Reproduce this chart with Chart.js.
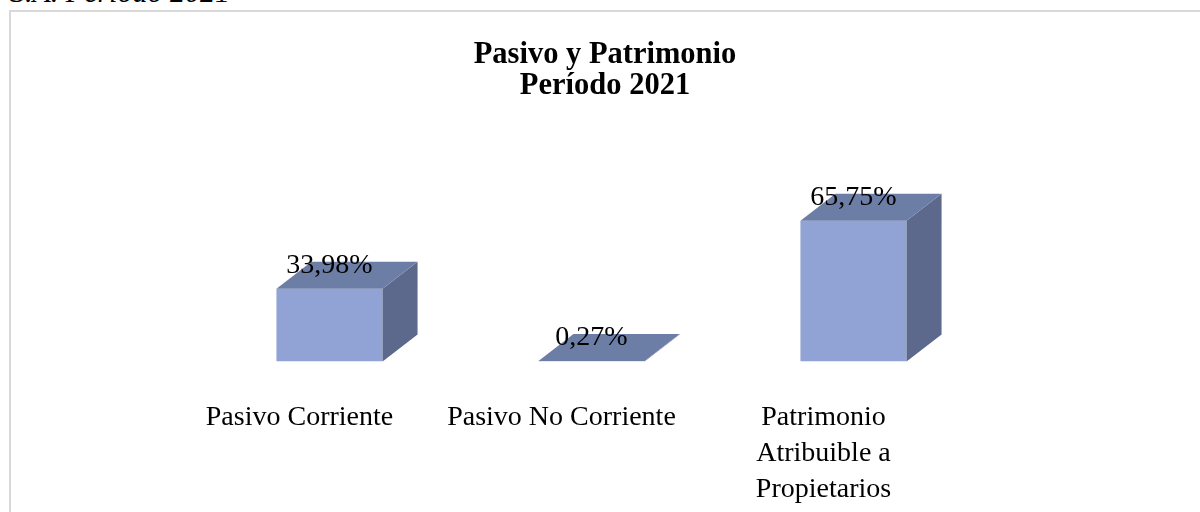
<!DOCTYPE html>
<html>
<head>
<meta charset="utf-8">
<script src="https://cdn.jsdelivr.net/npm/chart.js@4/dist/chart.umd.min.js"></script>
<style>
    html, body { margin: 0; padding: 0; background: #fff; overflow: hidden; }
    #page { position: relative; width: 1200px; height: 512px; overflow: hidden; }
    #caption {
        position: absolute; left: 10px; top: -23px;
        font: italic 30px/30px 'Liberation Serif', serif; color: #000; white-space: nowrap;
    }
    #frame {
        position: absolute; left: 9px; top: 10px; width: 1220px; height: 540px;
        border: 2px solid #d9d9d9; box-sizing: border-box;
    }
    #wrap { position: absolute; left: 0; top: 0; width: 1200px; height: 512px; }
</style>
</head>
<body>
<div id="page">
    <div id="caption">S.A. Período 2021</div>
    <div id="frame"></div>
    <div id="wrap"><canvas id="myChart"></canvas></div>
</div>
<script>
const categories = ['Pasivo Corriente', 'Pasivo No Corriente', 'Patrimonio Atribuible a Propietarios'];
const tickLines = [['Pasivo Corriente'], ['Pasivo No Corriente'], ['Patrimonio', 'Atribuible a', 'Propietarios']];
const values = [33.98, 0.27, 65.75];
const titleLines = ['Pasivo y Patrimonio', 'Período 2021'];

const frontColor = '#91a2d5';
const topColor = '#6c7ea6';
const sideColor = '#5c698c';
const depthX = 35;
const depthY = 27;

Chart.defaults.font.family = "'Liberation Serif', 'Times New Roman', serif";
Chart.defaults.color = '#000';

// fake 3D: top and side faces + value labels
const boxes3d = {
    id: 'boxes3d',
    afterDatasetsDraw(chart) {
        const ctx = chart.ctx;
        const meta = chart.getDatasetMeta(0);
        ctx.save();
        meta.data.forEach((bar, i) => {
            const x0 = bar.x - bar.width / 2;
            const x1 = bar.x + bar.width / 2;
            const top = Math.min(bar.y, bar.base - 0.6);
            const base = bar.base;

            ctx.fillStyle = sideColor;
            ctx.beginPath();
            ctx.moveTo(x1, top);
            ctx.lineTo(x1 + depthX, top - depthY);
            ctx.lineTo(x1 + depthX, base - depthY);
            ctx.lineTo(x1, base);
            ctx.closePath();
            ctx.fill();

            ctx.fillStyle = topColor;
            ctx.beginPath();
            ctx.moveTo(x0, top);
            ctx.lineTo(x1, top);
            ctx.lineTo(x1 + depthX, top - depthY);
            ctx.lineTo(x0 + depthX, top - depthY);
            ctx.closePath();
            ctx.fill();
        });
        ctx.fillStyle = '#000';
        ctx.font = "28px 'Liberation Serif', serif";
        ctx.textAlign = 'center';
        ctx.textBaseline = 'alphabetic';
        meta.data.forEach((bar, i) => {
            const txt = values[i].toFixed(2).replace('.', ',') + '%';
            ctx.fillText(txt, bar.x, bar.y - 15.5);
        });
        ctx.restore();
    }
};

new Chart(document.getElementById('myChart'), {
    type: 'bar',
    data: {
        labels: categories,
        datasets: [{
            data: values,
            backgroundColor: frontColor,
            borderWidth: 0,
            barPercentage: 0.405,
            categoryPercentage: 1
        }]
    },
    options: {
        responsive: true,
        maintainAspectRatio: false,
        animation: false,
        layout: {
            padding: { left: 198.5, right: 188.5, top: 40, bottom: 6.5 }
        },
        scales: {
            x: {
                grid: { display: false, drawTicks: false },
                border: { display: false },
                afterFit: (scale) => { scale.height = 144; },
                ticks: {
                    padding: 38,
                    labelOffset: -30,
                    maxRotation: 0,
                    autoSkip: false,
                    font: { size: 28, lineHeight: 36 / 28 },
                    callback: (v, i) => tickLines[i]
                }
            },
            y: {
                // empty axis on the right, only to leave room like the original
                position: 'right',
                min: 0,
                max: 100,
                grid: { display: false, drawTicks: false },
                border: { display: false },
                ticks: { display: false },
                afterFit: (scale) => { scale.width = 27; }
            }
        },
        plugins: {
            legend: { display: false },
            tooltip: { enabled: false },
            title: {
                display: true,
                text: titleLines,
                color: '#000',
                font: { size: 30.5, weight: 'bold', lineHeight: 1 },
                padding: { top: 0, bottom: 46.5 }
            }
        }
    },
    plugins: [boxes3d]
});
</script>
</body>
</html>
